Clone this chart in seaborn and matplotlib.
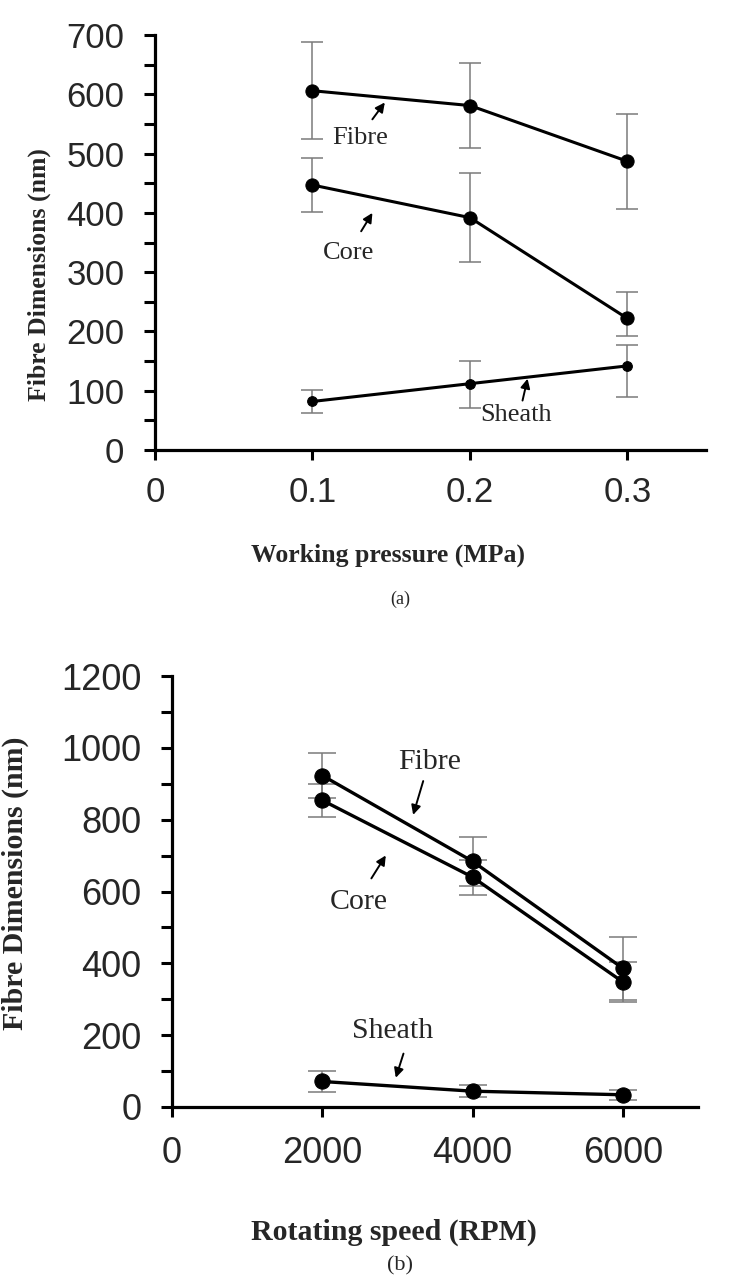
import pandas as pd
import matplotlib
matplotlib.use("Agg")
import matplotlib.pyplot as plt
from matplotlib.ticker import MultipleLocator
import seaborn as sns

# (a) working pressure
pressure = [0.1, 0.2, 0.3]
fibre_a = [606, 581, 487]
fibre_a_err_lo = [82, 71, 81]
fibre_a_err_hi = [82, 72, 80]
core_a = [447, 392, 222]
core_a_err_lo = [46, 75, 29]
core_a_err_hi = [46, 75, 44]
sheath_a = [82, 112, 142]
sheath_a_err_lo = [20, 41, 52]
sheath_a_err_hi = [19, 39, 35]

# (b) rotating speed
speed = [2000, 4000, 6000]
fibre_b = [923, 684, 386]
fibre_b_err = [62, 68, 87]
core_b = [854, 640, 348]
core_b_err = [46, 49, 57]
sheath_b = [71, 44, 34]
sheath_b_err = [28, 16, 14]

series_names = ["Fibre", "Core", "Sheath"]

df_a = pd.DataFrame({
    "x": pressure * 3,
    "y": fibre_a + core_a + sheath_a,
    "lo": fibre_a_err_lo + core_a_err_lo + sheath_a_err_lo,
    "hi": fibre_a_err_hi + core_a_err_hi + sheath_a_err_hi,
    "series": [s for s in series_names for _ in pressure],
})
df_b = pd.DataFrame({
    "x": speed * 3,
    "y": fibre_b + core_b + sheath_b,
    "lo": fibre_b_err + core_b_err + sheath_b_err,
    "hi": fibre_b_err + core_b_err + sheath_b_err,
    "series": [s for s in series_names for _ in speed],
})

sns.set_style("ticks")
plt.rcParams["font.family"] = ["Liberation Sans", "DejaVu Sans"]

fig = plt.figure(figsize=(7.31, 12.86), dpi=100)
ax1 = fig.add_axes([0.212, 0.650, 0.754, 0.3228])
ax2 = fig.add_axes([0.2353, 0.1392, 0.7197, 0.3351])

serif = ["Liberation Serif", "DejaVu Serif"]


def draw(ax, df, msizes, capsize, lw, tick_size, xpad):
    for name, ms in zip(series_names, msizes):
        d = df[df["series"] == name]
        ax.errorbar(d["x"], d["y"], yerr=[d["lo"], d["hi"]], fmt="none",
                    ecolor="#7a7a7a", elinewidth=1.1, capsize=capsize,
                    capthick=1.1, zorder=1)
        sns.lineplot(data=d, x="x", y="y", ax=ax, color="black", lw=lw,
                     marker="o", markersize=ms, markeredgecolor="black",
                     zorder=3, legend=False)
    for s in ["top", "right"]:
        ax.spines[s].set_visible(False)
    for s in ["left", "bottom"]:
        ax.spines[s].set_linewidth(2.3)
        ax.spines[s].set_color("black")
    ax.tick_params(axis="both", which="major", direction="out", width=2.2,
                   color="black", labelsize=tick_size)
    ax.tick_params(axis="y", which="major", length=8, pad=14)
    ax.tick_params(axis="y", which="minor", direction="out", length=8,
                   width=2.2, color="black")
    ax.tick_params(axis="x", which="major", length=7, pad=xpad)


def arrow(ax, tail, head):
    ax.annotate("", xy=head, xytext=tail,
                arrowprops=dict(arrowstyle="-|>", color="black", lw=1.4,
                                mutation_scale=14))


# panel (a)
draw(ax1, df_a, [9.5, 9.5, 7], 8, 2.2, 25, 12)
ax1.set_xlim(0, 0.35)
ax1.set_ylim(0, 700)
ax1.set_xticks([0, 0.1, 0.2, 0.3])
ax1.set_xticklabels(["0", "0.1", "0.2", "0.3"])
ax1.yaxis.set_major_locator(MultipleLocator(100))
ax1.yaxis.set_minor_locator(MultipleLocator(50))
ax1.set_xlabel("Working pressure (MPa)", family=serif, weight="bold", fontsize=18.5)
ax1.set_ylabel("Fibre Dimensions (nm)", family=serif, weight="bold", fontsize=18.5)
ax1.xaxis.label.set_va("center")
ax1.yaxis.label.set_va("center")
ax1.xaxis.set_label_coords(0.422, -0.253)
ax1.yaxis.set_label_coords(-0.209, 0.424)

ax1.text(0.130, 527, "Fibre", family=serif, fontsize=19, ha="center", va="center")
arrow(ax1, (0.137, 554), (0.147, 590))
ax1.text(0.123, 333, "Core", family=serif, fontsize=19, ha="center", va="center")
arrow(ax1, (0.130, 365), (0.139, 404))
ax1.text(0.2295, 59, "Sheath", family=serif, fontsize=19, ha="center", va="center")
arrow(ax1, (0.233, 79), (0.237, 125))

# panel (b)
draw(ax2, df_b, [11, 11, 11], 10, 2.4, 26, 14)
ax2.set_xlim(0, 7000)
ax2.set_ylim(0, 1200)
ax2.set_xticks([0, 2000, 4000, 6000])
ax2.yaxis.set_major_locator(MultipleLocator(200))
ax2.yaxis.set_minor_locator(MultipleLocator(100))
ax2.set_xlabel("Rotating speed (RPM)", family=serif, weight="bold", fontsize=21.5)
ax2.set_ylabel("Fibre Dimensions (nm)", family=serif, weight="bold", fontsize=21.5)
ax2.xaxis.label.set_va("center")
ax2.yaxis.label.set_va("center")
ax2.xaxis.set_label_coords(0.422, -0.290)
ax2.yaxis.set_label_coords(-0.298, 0.519)

ax2.text(3432, 961, "Fibre", family=serif, fontsize=21.5, ha="center", va="center")
arrow(ax2, (3353, 915), (3198, 806))
ax2.text(2489, 572, "Core", family=serif, fontsize=21.5, ha="center", va="center")
arrow(ax2, (2633, 630), (2864, 707))
ax2.text(2929, 211, "Sheath", family=serif, fontsize=21.5, ha="center", va="center")
arrow(ax2, (3091, 156), (2966, 74))

fig.text(400 / 731, 1 - 599 / 1286, "(a)", family=serif, fontsize=13,
         ha="center", va="center")
fig.text(400 / 731, 1 - 1266 / 1286, "(b)", family=serif, fontsize=16,
         ha="center", va="center")

fig.savefig("out.png", dpi=100)
